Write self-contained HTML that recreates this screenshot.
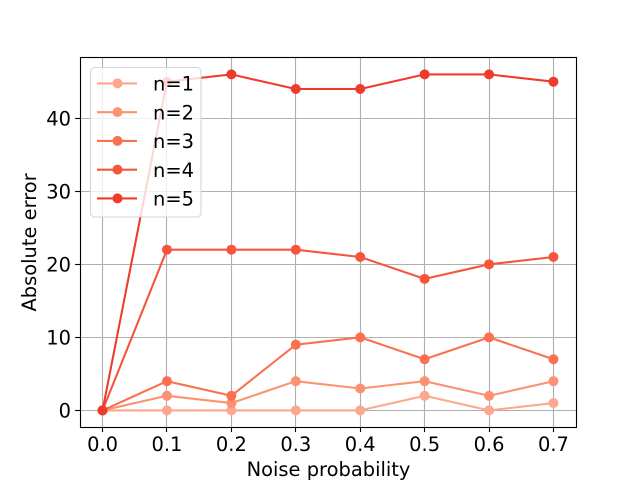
<!DOCTYPE html>
<html>
<head>
<meta charset="utf-8">
<style>
html,body{margin:0;padding:0;background:#fff;}
svg{display:block;}
text{font-family:"DejaVu Sans","Liberation Sans",sans-serif;fill:#000;}
</style>
</head>
<body>
<svg id="chart" width="640" height="480" viewBox="0 0 640 480" xmlns="http://www.w3.org/2000/svg"></svg>
<script>
const categories = [0.0, 0.1, 0.2, 0.3, 0.4, 0.5, 0.6, 0.7];
const seriesN1 = [0, 0, 0, 0, 0, 2, 0, 1];
const seriesN2 = [0, 2, 1, 4, 3, 4, 2, 4];
const seriesN3 = [0, 4, 2, 9, 10, 7, 10, 7];
const seriesN4 = [0, 22, 22, 22, 21, 18, 20, 21];
const seriesN5 = [0, 45, 46, 44, 44, 46, 46, 45];
const seriesLabels = ['n=1', 'n=2', 'n=3', 'n=4', 'n=5'];
const xTickLabels = ['0.0', '0.1', '0.2', '0.3', '0.4', '0.5', '0.6', '0.7'];
const yTicks = [0, 10, 20, 30, 40];
const yTickLabels = ['0', '10', '20', '30', '40'];
const xAxisTitle = 'Noise probability';
const yAxisTitle = 'Absolute error';

const allSeries = [seriesN1, seriesN2, seriesN3, seriesN4, seriesN5];
const colors = ['#fca78e', '#fc9272', '#fb7050', '#f6553c', '#ef3b2c'];

const NS = 'http://www.w3.org/2000/svg';
const svg = document.getElementById('chart');
const plotLeft = 80, plotRight = 576, plotTop = 57.6, plotBottom = 427.2;
const FONT = 19.44;
const MARKER_R = 5;

const xMin = Math.min(...categories), xMax = Math.max(...categories);
const flat = allSeries.flat();
const yMin = Math.min(...flat), yMax = Math.max(...flat);
const xPad = (xMax - xMin) * 0.05, yPad = (yMax - yMin) * 0.05;

function xScale(v) {
  return plotLeft + (v - (xMin - xPad)) / ((xMax + xPad) - (xMin - xPad)) * (plotRight - plotLeft);
}
function yScale(v) {
  return plotBottom - (v - (yMin - yPad)) / ((yMax + yPad) - (yMin - yPad)) * (plotBottom - plotTop);
}
function snap(p) {
  return Math.floor(p) + 0.5;
}
function make(tag, attrs, parent) {
  const el = document.createElementNS(NS, tag);
  for (const k in attrs) el.setAttribute(k, attrs[k]);
  (parent || svg).appendChild(el);
  return el;
}

// Grid
categories.forEach(function (c) {
  const x = snap(xScale(c));
  const g = make('line', {x1: x, x2: x, y1: plotTop, y2: plotBottom, stroke: '#b0b0b0', 'stroke-width': 1.11});
  
  
});
yTicks.forEach(function (t) {
  const y = snap(yScale(t));
  const g = make('line', {x1: plotLeft, x2: plotRight, y1: y, y2: y, stroke: '#b0b0b0', 'stroke-width': 1.11});
  
  
});

// Series
allSeries.forEach(function (values, i) {
  const grp = make('g', {});
  
  
  const pts = values.map(function (v, j) { return xScale(categories[j]) + ',' + yScale(v); }).join(' ');
  const line = make('polyline', {points: pts, fill: 'none', stroke: colors[i], 'stroke-width': 2.08, 'stroke-linejoin': 'round'}, grp);
  
  
  values.forEach(function (v, j) {
    const p = make('circle', {cx: xScale(categories[j]), cy: yScale(v), r: MARKER_R, fill: colors[i]}, grp);
    
    
  });
});

// Ticks and tick labels
categories.forEach(function (c, i) {
  const x = snap(xScale(c));
  const t = make('line', {x1: x, x2: x, y1: plotBottom, y2: plotBottom + 4.86, stroke: '#000', 'stroke-width': 1.11});
  
  
  const l = make('text', {x: xScale(c), y: 451, 'text-anchor': 'middle', 'font-size': FONT});
  l.textContent = xTickLabels[i];
  
  
});
yTicks.forEach(function (v, i) {
  const y = snap(yScale(v));
  const t = make('line', {x1: plotLeft - 4.86, x2: plotLeft, y1: y, y2: y, stroke: '#000', 'stroke-width': 1.11});
  
  
  const l = make('text', {x: 71, y: yScale(v) + 7.1, 'text-anchor': 'end', 'font-size': FONT});
  l.textContent = yTickLabels[i];
  
  
});

// Spines
const frame = make('rect', {x: plotLeft + 0.5, y: snap(plotTop), width: plotRight - plotLeft, height: snap(plotBottom) - snap(plotTop), fill: 'none', stroke: '#000', 'stroke-width': 1.11});



// Axis titles
const xt = make('text', {x: 328.5, y: 476, 'text-anchor': 'middle', 'font-size': FONT});
xt.textContent = xAxisTitle;


const yt = make('text', {x: 0, y: 0, 'text-anchor': 'middle', 'font-size': FONT, transform: 'translate(36,242.4) rotate(-90)'});
yt.textContent = yAxisTitle;



// Legend
const legend = make('g', {});


const box = make('rect', {x: 90.5, y: 67.5, width: 110.5, height: 149.5, rx: 4, ry: 4, fill: '#fff', 'fill-opacity': 0.8, stroke: '#ccc', 'stroke-opacity': 0.8, 'stroke-width': 1.11}, legend);


seriesLabels.forEach(function (label, i) {
  const y = 83.4 + i * 28.75;
  const e = make('g', {}, legend);
  
  
  make('line', {x1: 97, x2: 137, y1: y, y2: y, stroke: colors[i], 'stroke-width': 2.08}, e);
  make('circle', {cx: 117.5, cy: y, r: MARKER_R, fill: colors[i]}, e);
  const t = make('text', {x: 153, y: y + 7.1, 'font-size': FONT}, e);
  t.textContent = label;
});
</script>
</body>
</html>
